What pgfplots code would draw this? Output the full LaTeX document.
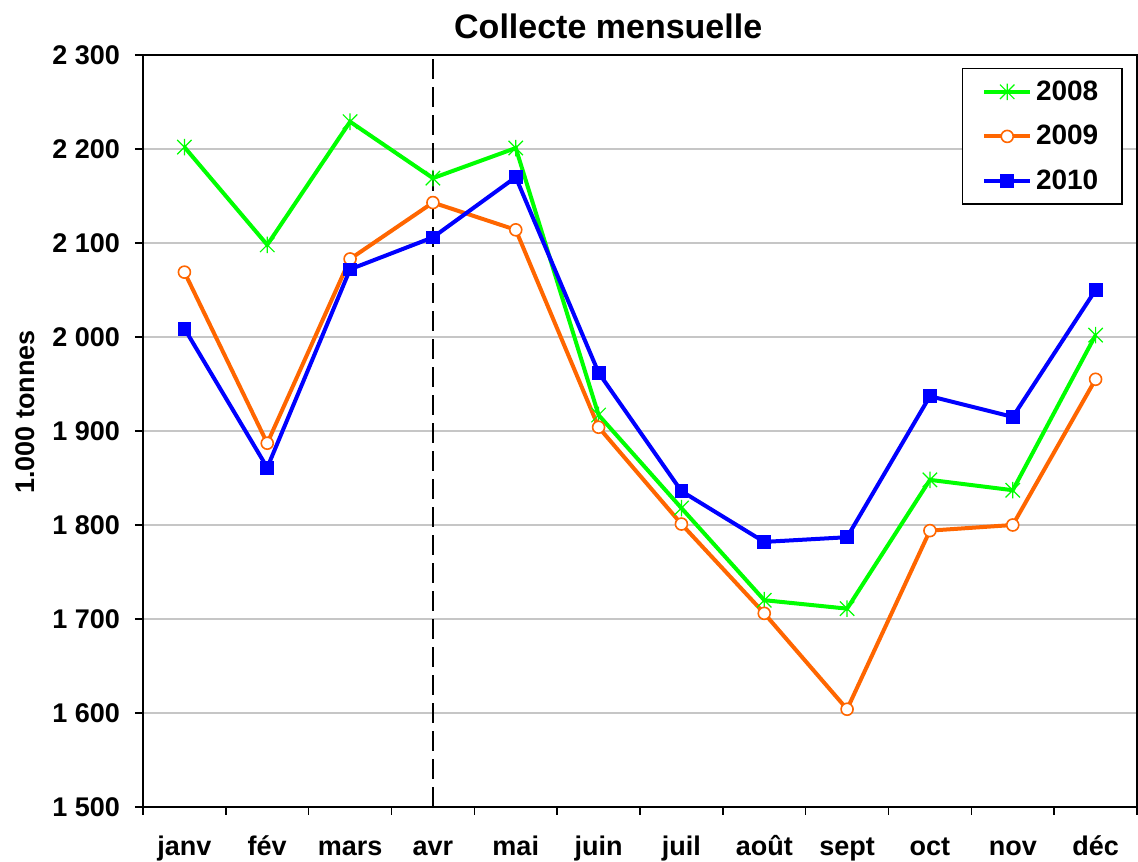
\documentclass[border=0pt]{standalone}
\usepackage{fontspec}
\setmainfont{Liberation Sans}
\usepackage{pgfplots}
\pgfplotsset{compat=1.18}
\definecolor{cgreen}{RGB}{0,255,0}
\definecolor{corange}{RGB}{255,102,0}
\definecolor{cblue}{RGB}{0,0,255}
\pgfdeclareplotmark{xbar}{%
  \pgfpathmoveto{\pgfqpoint{-\pgfplotmarksize}{-\pgfplotmarksize}}%
  \pgfpathlineto{\pgfqpoint{\pgfplotmarksize}{\pgfplotmarksize}}%
  \pgfpathmoveto{\pgfqpoint{-\pgfplotmarksize}{\pgfplotmarksize}}%
  \pgfpathlineto{\pgfqpoint{\pgfplotmarksize}{-\pgfplotmarksize}}%
  \pgfpathmoveto{\pgfqpoint{0pt}{-1.15\pgfplotmarksize}}%
  \pgfpathlineto{\pgfqpoint{0pt}{1.15\pgfplotmarksize}}%
  \pgfusepathqstroke}
\begin{document}
\begin{tikzpicture}
\begin{axis}[
 width=497pt, height=376pt, scale only axis,
 clip=false,
 xmin=-0.5, xmax=11.5, ymin=1500, ymax=2300,
 xtick={0,...,11},
 xticklabels={janv,fév,mars,avr,mai,juin,juil,août,sept,oct,nov,déc},
 minor xtick={-0.5,0.5,...,11.5},
 ytick={1500,1600,...,2300},
 yticklabels={1 500,1 600,1 700,1 800,1 900,2 000,2 100,2 200,2 300},
 tick align=outside,
 tick pos=left,
 major tick length=4pt,
 minor tick length=4pt,
 major x tick style={draw=none},
 minor x tick style={black, line width=0.8pt},
 major y tick style={black, line width=0.8pt},
 ymajorgrids,
 major grid style={gray!45, line width=0.6pt},
 axis line style={black, line width=0.8pt},
 ticklabel style={font=\bfseries\fontsize{13.5}{16}\selectfont},
 xticklabel style={text height=12pt, text depth=3pt, yshift=-4.5pt},
 yticklabel style={xshift=-4pt},
 /pgf/number format/assume math mode=true,
 legend style={at={(rel axis cs:0.986,0.983)}, anchor=north east,
   draw=black, line width=0.8pt, font=\bfseries\fontsize{14}{17}\selectfont,
   row sep=7pt, inner xsep=10pt, inner ysep=4pt},
 legend cell align=left,
 legend image code/.code={\draw[mark repeat=2,mark phase=2] plot coordinates {(0cm,0cm)(0.4cm,0cm)(0.8cm,0cm)};},
]
\addplot[black, line width=1pt, dash pattern=on 10pt off 4pt, forget plot] coordinates {(3,1500) (3,2300)};

\addplot[cgreen, line width=2pt, mark=xbar, mark size=3.6pt, mark options={solid, line width=0.6pt, cgreen}] coordinates {
(0,2202) (1,2098) (2,2229) (3,2169) (4,2201) (5,1917) (6,1818) (7,1720) (8,1711) (9,1848) (10,1837) (11,2002)};
\addlegendentry{2008}

\addplot[corange, line width=2pt, mark=*, mark size=3pt, mark options={solid, line width=0.8pt, draw=corange, fill=white}] coordinates {
(0,2069) (1,1887) (2,2083) (3,2143) (4,2114) (5,1904) (6,1801) (7,1706) (8,1604) (9,1794) (10,1800) (11,1955)};
\addlegendentry{2009}

\addplot[cblue, line width=2pt, mark=square*, mark size=3.2pt, mark options={solid, line width=0.4pt, cblue}] coordinates {
(0,2009) (1,1861) (2,2072) (3,2106) (4,2170) (5,1962) (6,1836) (7,1782) (8,1787) (9,1937) (10,1915) (11,2050)};
\addlegendentry{2010}

\node[font=\bfseries\fontsize{17}{20}\selectfont] at (rel axis cs:0.468,1.0386) {Collecte mensuelle};
\node[font=\bfseries\fontsize{13.5}{16}\selectfont, rotate=90] at ([xshift=-59pt]rel axis cs:0,0.525) {1.000 tonnes};
\end{axis}
\pgfresetboundingbox
\path[use as bounding box] ([xshift=-71.5pt,yshift=-27.5pt]current axis.south west) rectangle ([xshift=0.5pt,yshift=27.5pt]current axis.north east);
\end{tikzpicture}
\end{document}
